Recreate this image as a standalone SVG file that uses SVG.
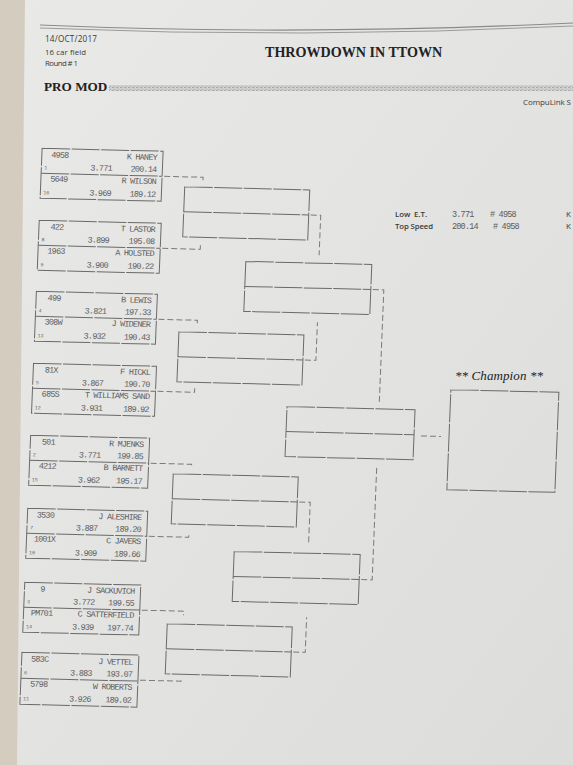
<svg xmlns="http://www.w3.org/2000/svg" width="573" height="765" viewBox="0 0 573 765">
<defs>
<linearGradient id="pg" x1="0" y1="0" x2="1" y2="1">
<stop offset="0" stop-color="#e9e9e8"/>
<stop offset="0.5" stop-color="#e3e3e2"/>
<stop offset="1" stop-color="#dcdcdb"/>
</linearGradient>
<pattern id="hatch" width="4" height="3" patternUnits="userSpaceOnUse">
<rect width="4" height="3" fill="#cfcfcf"/>
<rect width="2" height="1" fill="#a9a9a9"/>
<rect x="2" y="2" width="1" height="1" fill="#b4b4b4"/>
</pattern>
<style>
.bx{fill:none;stroke:#6a6a6a;stroke-width:1;stroke-dasharray:28 1.5}
.cn{fill:none;stroke:#7a7a7a;stroke-width:1;stroke-dasharray:6 3}
.t{font-family:"Liberation Mono","DejaVu Sans Mono",monospace;font-size:8.5px;letter-spacing:-0.8px;fill:#5c5c5c}
.s{font-size:5px;letter-spacing:0}
.r{text-anchor:end}
.m{text-anchor:middle}
.hd{font-family:"Open Sans","Liberation Sans",sans-serif;fill:#3a3a3a}
.sf{font-family:"Liberation Serif","Times New Roman",serif;fill:#222}
</style>
</defs>
<rect width="573" height="765" fill="url(#pg)"/>
<polygon points="0,0 25,0 17,765 0,765" fill="#d3ccbf"/>
<path d="M40 25 Q300 36 573 23" fill="none" stroke="#8a8a8a" stroke-width="1.2"/>
<path d="M40 28 Q300 39 573 26" fill="none" stroke="#9a9a9a" stroke-width="1"/>
<text class="hd" x="45" y="42" font-size="8.2" textLength="52">14/OCT/2017</text>
<text class="hd" x="45" y="54.5" font-size="7.8" textLength="41">16 car field</text>
<text class="hd" x="45" y="66" font-size="7.8" textLength="33">Round # 1</text>
<text class="sf" x="265" y="57" font-size="14.1" font-weight="bold">THROWDOWN IN TTOWN</text>
<text class="sf" x="44" y="91" font-size="13.2" font-weight="bold">PRO MOD</text>
<rect x="109" y="85" width="464" height="6" fill="url(#hatch)"/>
<text class="hd" x="523" y="105" font-size="8" textLength="48">CompuLink S</text>
<g id="stats">
<text class="hd" x="395" y="216.5" font-size="7.8" font-weight="600">Low<tspan x="414">E.T.</tspan></text>
<text class="t" x="452" y="216.5">3.771</text>
<text class="t" x="490" y="216.5"># 4958</text>
<text class="hd" x="566" y="216.5" font-size="8">K</text>
<text class="hd" x="395" y="229" font-size="7.8" textLength="38" font-weight="600">Top Speed</text>
<text class="t" x="452" y="229">200.14</text>
<text class="t" x="493" y="229"># 4958</text>
<text class="hd" x="566" y="229" font-size="8">K</text>
</g>
<text class="sf" x="455" y="380" font-size="13" font-style="italic" fill="#4a4a4a" textLength="88">** Champion **</text>
<g id="bracket" transform="matrix(1 0.025 -0.04 1 0 0)">
<g id="connectors">
<path class="cn" d="M171 172 H210 V176"/>
<path class="cn" d="M172 244 H210 V240"/>
<path class="cn" d="M171 315 H210 V319"/>
<path class="cn" d="M173 387 H210 V383"/>
<path class="cn" d="M169 459 H210 V463"/>
<path class="cn" d="M170 532 H210 V528"/>
<path class="cn" d="M166 606 H208 V610"/>
<path class="cn" d="M167 676 H208 V672"/>
<path class="cn" d="M319 207 H329 V247"/>
<path class="cn" d="M319 352 H330 V314"/>
<path class="cn" d="M319 494 H330 V535"/>
<path class="cn" d="M319 644 H331 V609"/>
<path class="cn" d="M384 280 H395 V393"/>
<path class="cn" d="M384 570 H395 V458"/>
<path class="cn" d="M438 425 H458"/>
</g>
<g id="p1" transform="translate(48,147)">
<rect class="bx" width="121" height="50"/><line class="bx" x1="0" y1="25" x2="121" y2="25"/>
<g id="p1a"><text class="t m" x="18" y="9">4958</text><text class="t r" x="115" y="9">K HANEY</text><text class="t s" x="3" y="21">1</text><text class="t" x="49" y="21">3.771</text><text class="t r" x="115" y="21">200.14</text></g>
<g id="p1b"><text class="t m" x="18" y="33">5649</text><text class="t r" x="115" y="33">R WILSON</text><text class="t s" x="3" y="46">16</text><text class="t" x="49" y="46">3.969</text><text class="t r" x="115" y="46">189.12</text></g>
</g>
<g id="p2" transform="translate(48,219)">
<rect class="bx" width="122" height="50"/><line class="bx" x1="0" y1="25" x2="122" y2="25"/>
<g id="p2a"><text class="t m" x="18" y="9">422</text><text class="t r" x="116" y="9">T LASTOR</text><text class="t s" x="3" y="21">8</text><text class="t" x="49" y="21">3.899</text><text class="t r" x="116" y="21">195.08</text></g>
<g id="p2b"><text class="t m" x="18" y="33">1963</text><text class="t r" x="116" y="33">A HOLSTED</text><text class="t s" x="3" y="46">9</text><text class="t" x="49" y="46">3.900</text><text class="t r" x="116" y="46">190.22</text></g>
</g>
<g id="p3" transform="translate(48,290)">
<rect class="bx" width="121" height="50"/><line class="bx" x1="0" y1="25" x2="121" y2="25"/>
<g id="p3a"><text class="t m" x="18" y="9">499</text><text class="t r" x="115" y="9">B LEWIS</text><text class="t s" x="3" y="21">4</text><text class="t" x="49" y="21">3.821</text><text class="t r" x="115" y="21">197.33</text></g>
<g id="p3b"><text class="t m" x="18" y="33">308W</text><text class="t r" x="115" y="33">J WIDENER</text><text class="t s" x="3" y="46">13</text><text class="t" x="49" y="46">3.932</text><text class="t r" x="115" y="46">190.43</text></g>
</g>
<g id="p4" transform="translate(48,362)">
<rect class="bx" width="123" height="50"/><line class="bx" x1="0" y1="25" x2="123" y2="25"/>
<g id="p4a"><text class="t m" x="18" y="9">81X</text><text class="t r" x="117" y="9">F HICKL</text><text class="t s" x="3" y="21">5</text><text class="t" x="49" y="21">3.867</text><text class="t r" x="117" y="21">190.70</text></g>
<g id="p4b"><text class="t m" x="18" y="33">685S</text><text class="t r" x="117" y="33">T WILLIAMS SAND</text><text class="t s" x="3" y="46">12</text><text class="t" x="49" y="46">3.931</text><text class="t r" x="117" y="46">189.92</text></g>
</g>
<g id="p5" transform="translate(48,434)">
<rect class="bx" width="119" height="50"/><line class="bx" x1="0" y1="25" x2="119" y2="25"/>
<g id="p5a"><text class="t m" x="18" y="9">501</text><text class="t r" x="113" y="9">R MJENKS</text><text class="t s" x="3" y="21">2</text><text class="t" x="49" y="21">3.771</text><text class="t r" x="113" y="21">199.85</text></g>
<g id="p5b"><text class="t m" x="18" y="33">4212</text><text class="t r" x="113" y="33">B BARNETT</text><text class="t s" x="3" y="46">15</text><text class="t" x="49" y="46">3.962</text><text class="t r" x="113" y="46">195.17</text></g>
</g>
<g id="p6" transform="translate(48,507)">
<rect class="bx" width="120" height="50"/><line class="bx" x1="0" y1="25" x2="120" y2="25"/>
<g id="p6a"><text class="t m" x="18" y="9">3530</text><text class="t r" x="114" y="9">J ALESHIRE</text><text class="t s" x="3" y="21">7</text><text class="t" x="49" y="21">3.887</text><text class="t r" x="114" y="21">189.20</text></g>
<g id="p6b"><text class="t m" x="18" y="33">1001X</text><text class="t r" x="114" y="33">C JAVERS</text><text class="t s" x="3" y="46">10</text><text class="t" x="49" y="46">3.909</text><text class="t r" x="114" y="46">189.66</text></g>
</g>
<g id="p7" transform="translate(48,581)">
<rect class="bx" width="116" height="50"/><line class="bx" x1="0" y1="25" x2="116" y2="25"/>
<g id="p7a"><text class="t m" x="18" y="9">9</text><text class="t r" x="110" y="9">J SACKUVICH</text><text class="t s" x="3" y="21">3</text><text class="t" x="49" y="21">3.772</text><text class="t r" x="110" y="21">199.55</text></g>
<g id="p7b"><text class="t m" x="18" y="33">PM701</text><text class="t r" x="110" y="33">C SATTERFIELD</text><text class="t s" x="3" y="46">14</text><text class="t" x="49" y="46">3.939</text><text class="t r" x="110" y="46">197.74</text></g>
</g>
<g id="p8" transform="translate(48,651)">
<rect class="bx" width="117" height="52"/><line class="bx" x1="0" y1="26" x2="117" y2="26"/>
<g id="p8a"><text class="t m" x="18" y="9">583C</text><text class="t r" x="111" y="10">J VETTEL</text><text class="t s" x="3" y="22">6</text><text class="t" x="49" y="22">3.883</text><text class="t r" x="111" y="22">193.07</text></g>
<g id="p8b"><text class="t m" x="18" y="34">5798</text><text class="t r" x="111" y="35">W ROBERTS</text><text class="t s" x="3" y="48">11</text><text class="t" x="49" y="48">3.926</text><text class="t r" x="111" y="48">189.02</text></g>
</g>
<g id="r2a"><rect class="bx" x="192" y="182" width="125" height="50"/><line class="bx" x1="192" y1="207" x2="317" y2="207"/></g>
<g id="r2b"><rect class="bx" x="192" y="327" width="125" height="50"/><line class="bx" x1="192" y1="352" x2="317" y2="352"/></g>
<g id="r2c"><rect class="bx" x="192" y="469" width="125" height="50"/><line class="bx" x1="192" y1="494" x2="317" y2="494"/></g>
<g id="r2d"><rect class="bx" x="192" y="619" width="125" height="50"/><line class="bx" x1="192" y1="644" x2="317" y2="644"/></g>
<g id="r3a"><rect class="bx" x="256" y="255" width="126" height="50"/><line class="bx" x1="256" y1="280" x2="382" y2="280"/></g>
<g id="r3b"><rect class="bx" x="256" y="545" width="126" height="50"/><line class="bx" x1="256" y1="570" x2="382" y2="570"/></g>
<g id="r4"><rect class="bx" x="303" y="399" width="128" height="50"/><line class="bx" x1="303" y1="424" x2="431" y2="424"/></g>
<g id="champion"><rect class="bx" x="466" y="378" width="108" height="100"/></g>
</g>
</svg>
